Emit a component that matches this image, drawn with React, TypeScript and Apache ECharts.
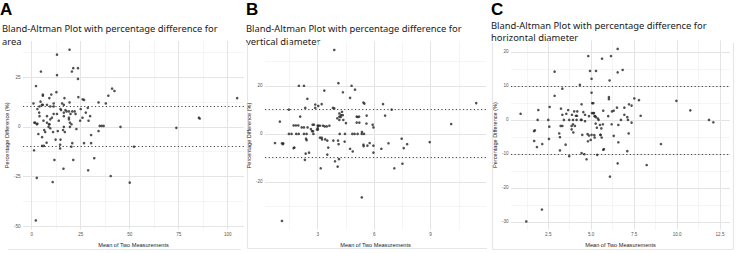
import React, { useEffect, useRef } from "react";
import * as echarts from "echarts";

// ---------- texts ----------
const panelLetters = ["A", "B", "C"];
const panelTitles = [
  ["Bland-Altman Plot with percentage difference for", "area"],
  ["Bland-Altman Plot with percentage difference for", "vertical diameter"],
  ["Bland-Altman Plot with percentage difference for", "horizontal diameter"],
];
const xAxisTitle = "Mean of Two Measurements";
const yAxisTitle = "Percentage Difference (%)";

// ---------- data: [mean of two measurements, percentage difference] ----------
const areaPoints = [
  [19.3, 38.9], [12.9, 36.4], [21.2, 29.6], [23.6, 29.6], [4.7, 27.9], [20.5, 27.9],
  [12.9, 26.1], [23.6, 24.2], [2.2, 20.6], [41.0, 19.3], [42.2, 18.1], [12.6, 17.5],
  [5.7, 16.3], [10.0, 16.3], [5.7, 15.7], [39.1, 15.7], [23.8, 15.0], [9.0, 14.5],
  [16.7, 14.5], [104.8, 14.5], [26.0, 13.9], [26.7, 13.6], [4.5, 12.7], [19.3, 12.3],
  [34.1, 12.3], [0.9, 11.8], [11.2, 11.8], [15.5, 11.8], [37.8, 11.8], [5.2, 11.1],
  [5.7, 11.1], [7.8, 11.1], [16.4, 11.1], [4.0, 10.3], [9.5, 10.3], [11.2, 10.3],
  [28.6, 9.6], [2.9, 9.0], [14.7, 9.0], [25.0, 9.0], [15.0, 8.5], [17.2, 8.5],
  [17.8, 7.8], [19.0, 7.8], [20.7, 7.8], [21.9, 7.8], [3.8, 7.2], [16.4, 7.2],
  [27.6, 7.2], [11.2, 6.5], [12.9, 6.5], [19.8, 6.5], [22.4, 6.5], [4.0, 5.4],
  [7.8, 5.4], [16.4, 5.4], [29.8, 5.4], [10.3, 4.6], [19.0, 4.6], [25.9, 4.6],
  [9.5, 3.8], [19.0, 3.8], [6.0, 3.1], [13.8, 3.1], [24.7, 3.1], [29.0, 3.1],
  [1.4, 2.1], [1.7, 2.1], [7.8, 2.1], [19.5, 2.1], [2.9, 1.6], [2.6, 1.3],
  [8.8, 1.3], [9.1, 1.3], [20.3, 1.3], [34.7, 0.5], [35.7, 0.5], [36.7, 0.5],
  [45.3, 0.0], [8.6, 0.0], [16.4, 0.0], [19.5, 0.0], [73.8, -0.5], [85.3, 4.6],
  [85.7, 4.2], [9.5, -0.7], [22.8, -1.1], [6.4, -1.6], [16.0, -1.6], [13.3, -2.1],
  [34.1, -2.1], [6.9, -2.6], [10.9, -2.6], [16.9, -2.6], [3.4, -3.6], [30.3, -4.1],
  [5.3, -5.2], [12.2, -6.4], [14.7, -6.4], [7.6, -8.0], [20.7, -8.2], [26.7, -8.2],
  [30.3, -8.2], [14.5, -9.0], [5.3, -9.6], [6.2, -9.6], [20.2, -10.0], [52.2, -10.0],
  [14.5, -10.9], [1.2, -11.8], [31.9, -15.8], [11.6, -16.7], [21.2, -16.7], [16.2, -21.1],
  [28.8, -21.9], [40.3, -24.8], [2.6, -25.7], [10.7, -27.8], [50.0, -28.1], [2.1, -47.2],
];

const verticalPoints = [
  [3.88, 34.9], [4.10, 21.1], [2.00, 20.0], [2.27, 20.0], [4.80, 20.0], [4.98, 18.4],
  [3.35, 18.0], [4.34, 17.3], [4.72, 15.0], [2.45, 14.6], [5.43, 13.0], [5.48, 12.6],
  [6.47, 12.4], [11.42, 12.8], [2.87, 12.2], [3.03, 11.6], [3.21, 12.4], [2.34, 10.8],
  [2.87, 10.8], [3.81, 10.8], [3.88, 10.6], [1.47, 10.1], [6.93, 10.1], [4.29, 9.2],
  [4.15, 8.5], [4.24, 7.8], [4.33, 7.8], [5.60, 7.6], [6.58, 7.6], [2.07, 7.2],
  [4.15, 7.2], [4.22, 7.0], [5.07, 7.2], [5.20, 7.2], [5.12, 7.0], [4.04, 6.5],
  [4.15, 5.8], [4.36, 5.8], [0.99, 5.1], [5.07, 4.7], [5.21, 4.7], [4.50, 4.5],
  [5.59, 4.3], [10.09, 4.1], [2.73, 3.8], [2.80, 3.8], [5.92, 3.8], [1.72, 3.5],
  [1.84, 3.5], [1.97, 3.5], [3.00, 3.4], [3.03, 3.4], [3.12, 3.4], [3.28, 3.4],
  [3.62, 3.4], [3.37, 3.1], [3.48, 3.1], [2.15, 2.7], [2.27, 2.7], [2.46, 2.7],
  [5.96, 2.7], [3.00, 2.4], [2.64, 2.0], [2.96, 1.8], [3.01, 1.8], [2.70, 1.1],
  [2.75, 1.1], [5.35, 0.8], [1.47, 0.0], [1.61, 0.0], [1.86, 0.0], [1.99, 0.0],
  [2.27, 0.0], [2.41, 0.0], [2.77, 0.0], [4.17, 0.0], [4.45, 0.0], [4.84, 0.0],
  [4.96, 0.0], [5.12, 0.0], [5.34, 0.0], [5.46, 0.0], [3.12, -1.6], [3.21, -1.6],
  [2.38, -2.0], [7.46, -2.0], [3.23, -2.3], [3.40, -2.3], [2.41, -2.6], [3.51, -2.8],
  [3.83, -2.8], [4.08, -2.8], [4.43, -3.2], [8.95, -3.4], [0.73, -3.8], [5.76, -3.8],
  [1.10, -3.9], [1.17, -3.9], [6.76, -3.9], [1.15, -4.3], [4.11, -4.3], [7.75, -4.3],
  [5.43, -4.5], [5.64, -4.9], [5.96, -4.9], [5.44, -5.1], [1.76, -5.7], [3.56, -5.7],
  [1.72, -5.9], [7.57, -5.9], [4.72, -6.2], [6.38, -6.2], [4.86, -7.3], [2.54, -7.8],
  [5.96, -7.8], [2.36, -8.2], [3.51, -8.6], [4.13, -10.5], [2.32, -10.8], [3.92, -11.4],
  [7.50, -12.4], [4.06, -13.6], [3.16, -14.3], [7.07, -14.3], [5.34, -26.4], [1.10, -36.2],
];

const horizontalPoints = [
  [6.54, 20.9], [4.83, 18.8], [6.15, 18.8], [5.63, 18.0], [6.83, 14.7], [4.93, 14.4],
  [5.28, 14.4], [2.87, 14.2], [6.54, 14.0], [5.02, 12.1], [6.07, 11.6], [4.34, 10.3],
  [3.32, 9.2], [5.02, 8.0], [2.87, 7.1], [6.03, 6.7], [7.51, 6.3], [6.03, 6.1],
  [7.78, 5.8], [9.96, 5.6], [5.06, 4.9], [5.12, 4.9], [4.44, 4.6], [7.20, 4.6],
  [7.35, 4.2], [2.58, 3.8], [6.50, 3.6], [6.93, 3.6], [3.24, 3.3], [1.92, 2.9],
  [3.66, 2.9], [10.77, 2.8], [6.31, 2.7], [5.70, 2.7], [4.01, 2.5], [4.19, 2.5],
  [6.21, 2.5], [4.54, 2.3], [5.04, 2.0], [5.16, 2.0], [5.12, 2.0], [0.89, 1.8],
  [3.55, 1.8], [3.32, 1.5], [3.88, 1.5], [4.64, 1.5], [6.93, 1.5], [4.11, 1.2],
  [4.17, 1.2], [7.88, 1.2], [4.87, 1.1], [5.22, 1.1], [5.20, 1.1], [5.99, 1.1],
  [5.28, 0.8], [7.10, 0.8], [5.39, 0.4], [1.88, 0.0], [2.50, 0.0], [3.41, 0.0],
  [3.72, 0.0], [3.94, 0.0], [4.15, 0.0], [4.40, 0.0], [4.44, 0.0], [5.43, 0.0],
  [6.73, 0.0], [7.14, 0.0], [11.86, 0.0], [4.64, -0.4], [12.11, -0.7], [7.35, -0.8],
  [5.26, -1.1], [3.94, -1.3], [5.68, -1.3], [6.19, -1.3], [5.51, -1.5], [6.58, -1.5],
  [3.22, -1.8], [3.32, -1.8], [3.86, -1.8], [4.05, -1.8], [2.56, -2.0], [5.33, -2.3],
  [5.59, -2.5], [3.86, -2.8], [1.72, -3.1], [1.67, -3.3], [3.96, -3.7], [3.14, -4.0],
  [7.18, -4.0], [4.79, -4.2], [4.48, -4.4], [5.02, -4.4], [5.55, -4.4], [5.53, -4.4],
  [5.18, -4.5], [4.87, -4.6], [6.31, -4.7], [3.18, -5.1], [5.61, -5.2], [5.20, -5.2],
  [2.54, -5.6], [4.97, -5.9], [1.68, -6.2], [4.81, -6.3], [6.58, -6.6], [2.15, -7.1],
  [9.06, -7.1], [3.51, -7.3], [1.84, -8.0], [5.74, -8.6], [5.70, -8.8], [3.18, -9.0],
  [7.10, -9.2], [4.44, -9.8], [4.60, -10.1], [5.35, -10.3], [3.72, -10.7], [4.73, -11.6],
  [6.54, -12.8], [8.23, -13.3], [6.09, -16.7], [2.13, -26.4], [1.22, -29.9],
];

// limits of agreement (dotted lines)
const areaLimits = [10.3, -9.8];
const verticalLimits = [10.1, -9.9];
const horizontalLimits = [10, -10];

// tick labels / grid breaks
const areaXTicks = [0, 25, 50, 75, 100];
const areaXMinor = [12.5, 37.5, 62.5, 87.5];
const areaYTicks = [25, 0, -25, -50];
const areaYMinor = [37.5, 12.5, -12.5, -37.5];

const verticalXTicks = [3, 6, 9];
const verticalXMinor = [1.5, 4.5, 7.5, 10.5];
const verticalYTicks = [20, 0, -20];
const verticalYMinor = [30, 10, -10, -30];

const horizontalXTicks = [2.5, 5.0, 7.5, 10.0, 12.5];
const horizontalXMinor = [1.25, 3.75, 6.25, 8.75, 11.25];
const horizontalYTicks = [20, 10, 0, -10, -20, -30];
const horizontalYMinor = [15, 5, -5, -15, -25];

// ---------- layout ----------
const panels = [
  {
    points: areaPoints, limits: areaLimits,
    xTicks: areaXTicks, xMinor: areaXMinor, yTicks: areaYTicks, yMinor: areaYMinor,
    grid: { left: 23, top: 41, width: 221, height: 194 },
    xMin: -4.44, xMax: 108.3, yMin: -51.8, yMax: 43.3,
    decimals: 0, yNameGap: 8,
    letterX: 0, titleX: 2, titleY: [28, 41.8],
  },
  {
    points: verticalPoints, limits: verticalLimits,
    xTicks: verticalXTicks, xMinor: verticalXMinor, yTicks: verticalYTicks, yMinor: verticalYMinor,
    grid: { left: 265, top: 41.3, width: 221, height: 193 },
    xMin: 0.2, xMax: 11.94, yMin: -39.8, yMax: 38.5,
    decimals: 0, yNameGap: 9,
    letterX: 246, titleX: 246, titleY: [28, 41.8],
  },
  {
    points: horizontalPoints, limits: horizontalLimits,
    xTicks: horizontalXTicks, xMinor: horizontalXMinor, yTicks: horizontalYTicks, yMinor: horizontalYMinor,
    grid: { left: 511, top: 40.4, width: 219, height: 194.2 },
    xMin: 0.33, xMax: 13.08, yMin: -32.3, yMax: 23.4,
    decimals: 1, yNameGap: 10,
    letterX: 491, titleX: 491, titleY: [25, 37.3],
  },
];

const AXIS_FONT = "'Liberation Sans', Arial, sans-serif";
const TITLE_FONT = "'Noto Sans', 'Open Sans', sans-serif";

export default function App() {
  const ref = useRef<HTMLDivElement>(null);

  useEffect(() => {
    if (!ref.current) return;
    const chart = echarts.init(ref.current, null, { renderer: "svg" });

    const grids: any[] = [];
    const xAxes: any[] = [];
    const yAxes: any[] = [];
    const series: any[] = [];
    const graphics: any[] = [];

    panels.forEach((p, i) => {
      grids.push({ ...p.grid, containLabel: false });
      xAxes.push({
        gridIndex: i,
        type: "value",
        min: p.xMin,
        max: p.xMax,
        axisLine: { show: false },
        axisTick: { show: false },
        splitLine: { show: false },
        axisLabel: {
          customValues: p.xTicks,
          fontSize: 4.6,
          color: "#555",
          fontFamily: AXIS_FONT,
          margin: 2.5,
          formatter: (v: number) => v.toFixed(p.decimals),
        },
        name: xAxisTitle,
        nameLocation: "middle",
        nameGap: 7,
        nameTextStyle: { fontSize: 5.6, color: "#222", fontFamily: AXIS_FONT },
      });
      yAxes.push({
        gridIndex: i,
        type: "value",
        min: p.yMin,
        max: p.yMax,
        axisLine: { show: false },
        axisTick: { show: false },
        splitLine: { show: false },
        axisLabel: {
          customValues: p.yTicks,
          fontSize: 4.6,
          color: "#555",
          fontFamily: AXIS_FONT,
          margin: 2.5,
        },
        name: yAxisTitle,
        nameLocation: "middle",
        nameRotate: 90,
        nameGap: p.yNameGap,
        nameTextStyle: { fontSize: 5.6, color: "#222", fontFamily: AXIS_FONT },
      });

      // background grid lines
      const minorStyle = { color: "#f2f2f2", width: 0.8, type: "solid" };
      const majorStyle = { color: "#e4e4e4", width: 1, type: "solid" };
      series.push({
        type: "scatter",
        xAxisIndex: i,
        yAxisIndex: i,
        data: [],
        silent: true,
        z: 1,
        markLine: {
          silent: true,
          animation: false,
          symbol: ["none", "none"],
          label: { show: false },
          z: 1,
          data: [
            ...p.xMinor.map((v) => ({ xAxis: v, lineStyle: minorStyle })),
            ...p.yMinor.map((v) => ({ yAxis: v, lineStyle: minorStyle })),
            ...p.xTicks.map((v) => ({ xAxis: v, lineStyle: majorStyle })),
            ...p.yTicks.map((v) => ({ yAxis: v, lineStyle: majorStyle })),
          ],
        },
      });
      // limits of agreement
      series.push({
        type: "scatter",
        xAxisIndex: i,
        yAxisIndex: i,
        data: [],
        silent: true,
        z: 2,
        markLine: {
          silent: true,
          animation: false,
          symbol: ["none", "none"],
          label: { show: false },
          z: 2,
          lineStyle: { color: "#444", width: 1, type: [1.2, 2.4] },
          data: p.limits.map((v) => ({ yAxis: v })),
        },
      });
      // points
      series.push({
        type: "scatter",
        xAxisIndex: i,
        yAxisIndex: i,
        data: p.points,
        symbol: "circle",
        symbolSize: 2.6,
        itemStyle: { color: "#262626" },
        z: 10,
      });

      graphics.push({
        type: "text",
        x: p.letterX,
        y: 9.5,
        style: {
          text: panelLetters[i],
          font: `bold 17px ${AXIS_FONT}`,
          fill: "#000",
          verticalAlign: "middle",
        },
      });
      panelTitles[i].forEach((line, j) => {
        graphics.push({
          type: "text",
          x: p.titleX,
          y: p.titleY[j],
          style: {
            text: line,
            font: `9.4px ${TITLE_FONT}`,
            fill: "#1a1a1a",
            verticalAlign: "middle",
          },
        });
      });
    });

    // light frames of the three pictures
    const frame = { stroke: "#e6e6e6", lineWidth: 1.2 };
    graphics.push(
      { type: "line", shape: { x1: 8, y1: 249.5, x2: 241, y2: 249.5 }, style: frame },
      { type: "line", shape: { x1: 247.5, y1: 43, x2: 247.5, y2: 248.5 }, style: frame },
      { type: "line", shape: { x1: 247.5, y1: 248.5, x2: 487, y2: 248.5 }, style: frame },
      { type: "line", shape: { x1: 492.5, y1: 43, x2: 492.5, y2: 249.5 }, style: frame },
      { type: "line", shape: { x1: 492.5, y1: 249.5, x2: 733.5, y2: 249.5 }, style: frame },
      { type: "line", shape: { x1: 733.5, y1: 43, x2: 733.5, y2: 249.5 }, style: frame }
    );

    chart.setOption({
      animation: false,
      backgroundColor: "#ffffff",
      grid: grids,
      xAxis: xAxes,
      yAxis: yAxes,
      series,
      graphic: graphics,
    });

    return () => chart.dispose();
  }, []);

  return (
    <div
      ref={ref}
      style={{ position: "absolute", left: 0, top: 0, width: 737, height: 253 }}
    />
  );
}
